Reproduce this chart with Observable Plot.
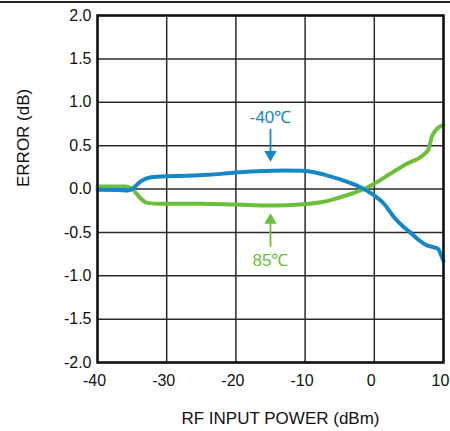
<!DOCTYPE html>
<html>
<head>
<meta charset="utf-8">
<script src="https://cdn.jsdelivr.net/npm/d3@7"></script>
<script src="https://cdn.jsdelivr.net/npm/@observablehq/plot@0.6"></script>
<style>
  html, body { margin: 0; padding: 0; background: #fff; }
  #wrap { position: relative; width: 450px; height: 431px; overflow: hidden; }
  #topline { position: absolute; left: 0; top: 1px; width: 450px; height: 1.5px; background: #222; }
  #chart { position: absolute; left: 0; top: 0; }
</style>
</head>
<body>
<div id="wrap"><div id="topline"></div><div id="chart"></div></div>
<script>
// ---- data ----
const xTicks = [-40, -30, -20, -10, 0, 10];
const yTicks = [-2, -1.5, -1, -0.5, 0, 0.5, 1, 1.5, 2];

// -40°C curve
const coldX = [-40, -37, -35.7, -35, -34.3, -33.7, -32.3, -30, -27, -24, -20, -16, -13, -10.5, -8.5, -6.8, -4.9, -2, 0, 1.4, 2.8, 4, 5.2, 6.3, 7.6, 8.5, 9.2, 9.6, 10];
const coldY = [-0.01, -0.012, -0.017, 0.0, 0.05, 0.09, 0.136, 0.148, 0.152, 0.163, 0.19, 0.208, 0.213, 0.21, 0.19, 0.155, 0.11, 0.02, -0.075, -0.17, -0.32, -0.42, -0.5, -0.58, -0.65, -0.67, -0.69, -0.75, -0.83];

// 85°C curve
const hotX = [-40, -37, -35.9, -35, -34.3, -33.75, -32.8, -31, -25, -20, -15, -10.2, -7.5, -5.9, -4.9, -3.5, -2, 0, 2.3, 4.7, 7.1, 7.85, 8.3, 8.8, 9.5, 10];
const hotY = [0.03, 0.03, 0.03, 0.0, -0.06, -0.11, -0.16, -0.17, -0.17, -0.18, -0.19, -0.175, -0.15, -0.12, -0.095, -0.06, -0.017, 0.06, 0.175, 0.29, 0.394, 0.46, 0.6, 0.67, 0.72, 0.735];

// annotations
const annLabels = ["-40\u2103", "85\u2103"];
const annX = [-15, -15];
const annLabelY = [0.82, -0.83];
const annTail = [0.685, -0.67];
const annTip = [0.317, -0.28];

const blue = "#1488c6";
const green = "#6cbf3b";
const annColors = [blue, green];

const cold = coldX.map((x, i) => ({x, y: coldY[i]}));
const hot = hotX.map((x, i) => ({x, y: hotY[i]}));
const ann = annLabels.map((t, i) => ({t, x: annX[i], ly: annLabelY[i], tail: annTail[i], tip: annTip[i], c: annColors[i]}));

const font = "'Liberation Sans', Arial, Helvetica, sans-serif";
const fmtX = d => String(d);
const fmtY = d => d.toFixed(1);

const chart = Plot.plot({
  width: 450,
  height: 431,
  marginLeft: 97,
  marginRight: 7,
  marginTop: 15,
  marginBottom: 69,
  style: {fontFamily: font, fontSize: "16px", color: "#111", background: "transparent", overflow: "visible"},
  x: {domain: [-40, 10], axis: null},
  y: {domain: [-2, 2], axis: null},
  marks: [
    Plot.ruleX(xTicks, {stroke: "#2a2a2a", strokeWidth: 1.5}),
    Plot.ruleY(yTicks, {stroke: "#2a2a2a", strokeWidth: 1.5}),
    Plot.line(hot, {x: "x", y: "y", stroke: green, strokeWidth: 4, curve: "monotone-x"}),
    Plot.line(cold, {x: "x", y: "y", stroke: blue, strokeWidth: 4, curve: "monotone-x"}),
    // arrows
    Plot.ruleX([ann[0]], {x: "x", y1: "tail", y2: "tip", stroke: "c", strokeWidth: 1.8, insetBottom: 6}),
    Plot.ruleX([ann[1]], {x: "x", y1: "tip", y2: "tail", stroke: "c", strokeWidth: 1.8, insetTop: 6}),
    Plot.dot([ann[0]], {x: "x", y: "tip", symbol: "triangle", r: 4.6, fill: "c", stroke: "none", rotate: 180, dy: -7}),
    Plot.dot([ann[1]], {x: "x", y: "tip", symbol: "triangle", r: 4.6, fill: "c", stroke: "none", dy: 7}),
    Plot.text(ann, {x: "x", y: "ly", text: "t", fill: "c", fontSize: 17, lineAnchor: "middle"}),
    Plot.frame({stroke: "#111", strokeWidth: 2.5}),
    Plot.axisX(xTicks, {tickSize: 0, tickPadding: 12, tickFormat: fmtX, fontSize: 16, dx: -3, label: null}),
    Plot.axisY(yTicks, {tickSize: 0, tickPadding: 6, tickFormat: fmtY, fontSize: 16, label: null}),
    Plot.text(["RF INPUT POWER (dBm)"], {frameAnchor: "bottom", lineAnchor: "middle", dy: 56, dx: 10, fontSize: 17, fill: "#111"}),
    Plot.text(["ERROR (dB)"], {frameAnchor: "left", lineAnchor: "middle", rotate: -90, dx: -74, dy: -2, fontSize: 17, fill: "#111"})
  ]
});
document.getElementById("chart").appendChild(chart);
</script>
</body>
</html>
